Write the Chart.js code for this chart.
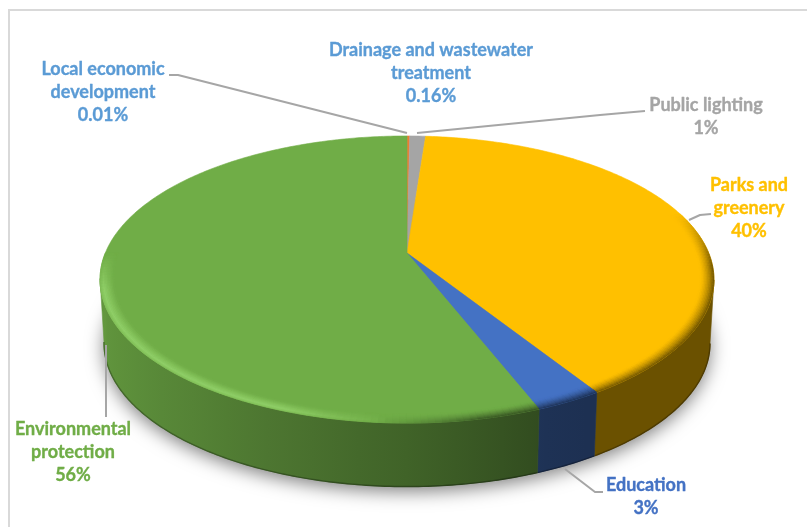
<!DOCTYPE html>
<html>
<head>
<meta charset="utf-8">
<title>Budget allocation by sector</title>
<style>
  html, body { margin: 0; padding: 0; background: #fff; }
  canvas { display: block; }
</style>
<script src="https://cdn.jsdelivr.net/npm/chart.js@4"></script>
</head>
<body>
<canvas id="pie" width="807" height="527"></canvas>
<script>
// Slices, clockwise from twelve o'clock
const categories = [
  ['Local economic', 'development'],
  ['Drainage and wastewater', 'treatment'],
  ['Public lighting'],
  ['Parks and', 'greenery'],
  ['Education'],
  ['Environmental', 'protection']
];
const shares = [0.01, 0.16, 1, 40, 3, 56];
const sliceColors = ['#5B9BD5', '#ED7D31', '#A5A5A5', '#FFC000', '#4472C4', '#70AD47'];
const labelColors = ['#5B9BD5', '#5B9BD5', '#A5A5A5', '#FFC000', '#4472C4', '#70AD47'];

// Callout text anchors (centre x, first baseline y) and leader polylines
const labelAnchors = [[103, 75], [431, 56], [706, 111], [749, 191], [646, 491], [73, 435]];
const leaderPaths = [
  [[169, 75], [178, 75], [407, 133]],
  [],
  [[417, 133], [600, 115], [645, 111]],
  [[689, 220], [700, 215], [711, 214]],
  [[565, 469], [595, 492], [603, 492]],
  [[106, 345], [106, 417]]
];
const LINE_GAP = 23;

// Tilted-disc projection, scaled from the radius the pie controller computes
const TILT = 0.1847, WIDTH_RATIO = 1.1925, DEPTH_RATIO = 0.548;
const THICKNESS = 63.5, BASE_SHRINK = 0.987;
const BEVEL = 0.045, BEVEL_RINGS = 10;

const clamp = (x, a = 0, b = 1) => Math.min(b, Math.max(a, x));
const rgb = hex => [1, 3, 5].map(i => parseInt(hex.substr(i, 2), 16));
const mix = (c, d, t) => c.map((v, i) => v + (d[i] - v) * t);
const css = c => `rgb(${c.map(Math.round).join(',')})`;

function projector(arc) {
  const R = arc.outerRadius * WIDTH_RATIO, A = arc.outerRadius * DEPTH_RATIO;
  return (angle, r = 1, base = false) => {
    const u = r * Math.cos(angle), v = r * Math.sin(angle), d = 1 - TILT * v;
    const x = R * u / d, y = A * v / d;
    return base ? [arc.x + x * BASE_SHRINK, arc.y + y + THICKNESS] : [arc.x + x, arc.y + y];
  };
}

// Wall brightness falls off from the left of the disc towards the right
function wallShade(u) {
  if (u < -0.5) return 0.88 + (u + 1) * (0.72 - 0.88) / 0.5;
  if (u < 0) return 0.72 + (u + 0.5) * (0.57 - 0.72) / 0.5;
  return Math.max(0.42, 0.57 - u * 0.35);
}

function steps(start, end, size) {
  const n = Math.max(1, Math.ceil((end - start) / size));
  return Array.from({ length: n + 1 }, (_, i) => start + (end - start) * i / n);
}

function trace(ctx, pts) {
  ctx.beginPath();
  pts.forEach((p, i) => i ? ctx.lineTo(p[0], p[1]) : ctx.moveTo(p[0], p[1]));
}

function quad(ctx, pts, color) {
  trace(ctx, pts);
  ctx.closePath();
  ctx.fillStyle = color;
  ctx.strokeStyle = color;
  ctx.lineWidth = 0.6;
  ctx.fill();
  ctx.stroke();
}

// Horizontal gradient that carries the wall shading across the front of the disc
function wallGradient(ctx, at, base, factor) {
  const left = at(Math.PI)[0] - 6, right = at(0)[0] + 6;
  const g = ctx.createLinearGradient(left, 0, right, 0);
  steps(0, Math.PI, Math.PI / 24).forEach(t => {
    const a = Math.PI - t;
    const pos = clamp((at(a)[0] - left) / (right - left));
    g.addColorStop(pos, css(base.map(v => v * wallShade(Math.cos(a)) * factor)));
  });
  return g;
}

const discPlugin = {
  id: 'tiltedDisc',
  beforeDraw(chart) {
    const { ctx, width, height } = chart;
    ctx.save();
    ctx.fillStyle = '#fff';
    ctx.fillRect(0, 0, width, height);
    ctx.strokeStyle = '#D9D9D9';
    ctx.lineWidth = 2;
    trace(ctx, [[9, height], [9, 10], [width, 10]]);
    ctx.stroke();
    ctx.restore();
  },
  beforeDatasetsDraw(chart) {
    const { ctx } = chart;
    const arcs = chart.getDatasetMeta(0).data;
    const at = projector(arcs[0]);
    const STEP = Math.PI / 240;
    ctx.save();
    ctx.lineJoin = 'round';

    // Soft ground shadow
    ctx.save();
    ctx.shadowColor = 'rgba(0,0,0,0.5)';
    ctx.shadowBlur = 18;
    ctx.shadowOffsetY = 5;
    ctx.fillStyle = '#888';
    trace(ctx, steps(0, Math.PI * 2, STEP).map(a => at(a, 1, true)));
    ctx.closePath();
    ctx.fill();
    ctx.restore();

    // Outer wall, one smooth shape per slice; only the camera-facing arc is traced
    arcs.forEach((arc, i) => {
      const base = rgb(sliceColors[i]);
      const grid = steps(arc.startAngle, arc.endAngle, STEP).filter(a => Math.sin(a) >= TILT - 0.01);
      if (grid.length < 2) return;
      const upper = grid.map(a => at(a));
      const lower = grid.map(a => at(a, 1, true));
      const fill = wallGradient(ctx, at, base, 1);
      trace(ctx, upper.concat(lower.slice().reverse()));
      ctx.closePath();
      ctx.fillStyle = fill;
      ctx.strokeStyle = fill;
      ctx.lineWidth = 0.6;
      ctx.fill();
      ctx.stroke();
      trace(ctx, lower);
      ctx.strokeStyle = wallGradient(ctx, at, base, 0.72);
      ctx.lineWidth = 1.4;
      ctx.stroke();
    });

    // Top face
    arcs.forEach((arc, i) => {
      const pts = [[arc.x, arc.y]].concat(steps(arc.startAngle, arc.endAngle, STEP).map(a => at(a)));
      quad(ctx, pts, sliceColors[i]);
    });

    // Bevelled rim: highlight on the left of the front, shaded on the right
    arcs.forEach((arc, i) => {
      const base = rgb(sliceColors[i]);
      const grid = steps(arc.startAngle, arc.endAngle, STEP * 1.5);
      for (let k = 0; k < grid.length - 1; k++) {
        const a = grid[k], b = grid[k + 1], mid = (a + b) / 2;
        const u = Math.cos(mid), v = Math.sin(mid);
        const dark = clamp((u + 0.1) / 0.3) * clamp((v + 0.3) / 0.4);
        const light = clamp((-u - 0.05) / 0.3) * clamp(v / 0.25);
        if (dark <= 0 && light <= 0) continue;
        const wall = base.map(x => x * wallShade(u));
        const shine = mix(base, [190, 255, 150], 0.42);
        for (let ring = 0; ring < BEVEL_RINGS; ring++) {
          const s0 = ring / BEVEL_RINGS, s1 = (ring + 1) / BEVEL_RINGS, s = (s0 + s1) / 2;
          const r0 = 1 - BEVEL * s0, r1 = 1 - BEVEL * s1;
          let c = mix(base, wall, dark * Math.pow(1 - s, 1.5));
          const bell = s < 0.25 ? 0.5 + s / 0.25 * 0.5 : (1 - s) / 0.75;
          c = mix(c, shine, light * bell);
          quad(ctx, [at(a, r0), at(b, r0), at(b, r1), at(a, r1)], css(c));
        }
      }
    });
    ctx.restore();
    return false;
  },
  afterDraw(chart) {
    const { ctx } = chart;
    const values = chart.data.datasets[0].data;
    ctx.save();
    ctx.textAlign = 'center';
    ctx.textBaseline = 'alphabetic';
    ctx.lineJoin = 'round';

    leaderPaths.forEach(path => {
      if (!path.length) return;
      ctx.strokeStyle = '#A6A6A6';
      ctx.lineWidth = 2;
      trace(ctx, path);
      ctx.stroke();
    });

    ctx.font = '700 18px Lato, sans-serif';
    ctx.lineWidth = 0.35;
    chart.data.labels.forEach((lines, i) => {
      const [x, y] = labelAnchors[i];
      ctx.fillStyle = labelColors[i];
      ctx.strokeStyle = labelColors[i];
      lines.concat(values[i] + '%').forEach((text, n) => {
        ctx.fillText(text, x, y + n * LINE_GAP);
        ctx.strokeText(text, x, y + n * LINE_GAP);
      });
    });
    ctx.restore();
  }
};

new Chart(document.getElementById('pie'), {
  type: 'pie',
  data: {
    labels: categories,
    datasets: [{ data: shares, backgroundColor: sliceColors, borderWidth: 0 }]
  },
  options: {
    responsive: false,
    animation: false,
    layout: { padding: { left: 7, bottom: 21 } },
    plugins: { legend: { display: false }, tooltip: { enabled: false } }
  },
  plugins: [discPlugin]
});
</script>
</body>
</html>
